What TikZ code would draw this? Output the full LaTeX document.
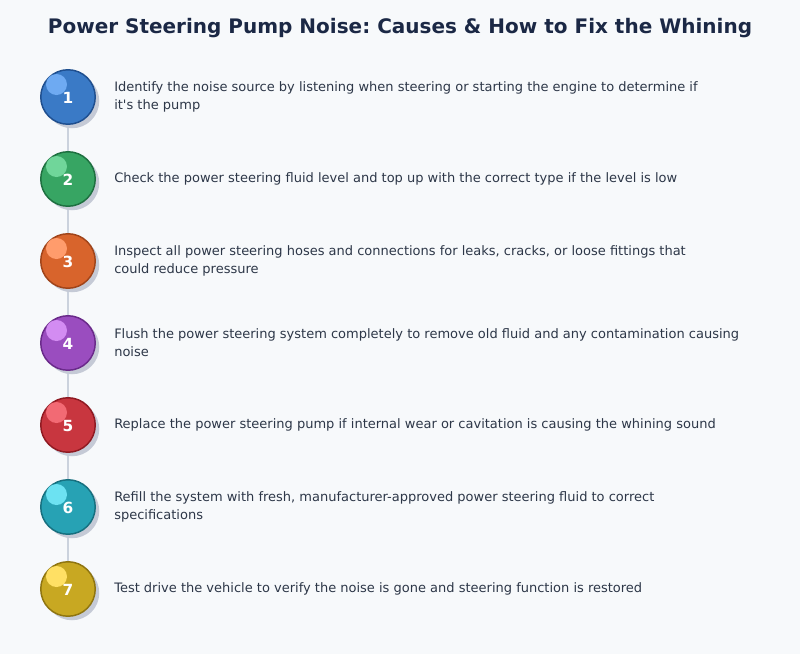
\documentclass[tikz,border=0pt]{standalone}
\usepackage{fontspec}
\setmainfont{DejaVu Sans}[Ligatures=TeXOff]
\frenchspacing
\definecolor{bg}{HTML}{F7F9FB}
\definecolor{titlec}{HTML}{1B2845}
\definecolor{textc}{HTML}{2D3748}
\definecolor{linec}{HTML}{CBD2DD}
\definecolor{shadc}{HTML}{C5CAD6}
\definecolor{fA}{HTML}{3A7AC6}\definecolor{bA}{HTML}{1F4F8F}\definecolor{hA}{HTML}{6EAAF2}
\definecolor{fB}{HTML}{37A563}\definecolor{bB}{HTML}{1E7040}\definecolor{hB}{HTML}{70D69A}
\definecolor{fC}{HTML}{D8642C}\definecolor{bC}{HTML}{A0441A}\definecolor{hC}{HTML}{FF9C6C}
\definecolor{fD}{HTML}{9A4DBF}\definecolor{bD}{HTML}{6A2A8A}\definecolor{hD}{HTML}{D38CF2}
\definecolor{fE}{HTML}{C8363F}\definecolor{bE}{HTML}{8F1A22}\definecolor{hE}{HTML}{F26A74}
\definecolor{fF}{HTML}{27A2B4}\definecolor{bF}{HTML}{17707F}\definecolor{hF}{HTML}{6CE2F2}
\definecolor{fG}{HTML}{C8A822}\definecolor{bG}{HTML}{8F7510}\definecolor{hG}{HTML}{FFE064}
\tikzset{
  stepcirc/.style={circle, minimum size=54.5*0.75pt, inner sep=0pt, line width=1.1pt},
  shadowcirc/.style={circle, fill=shadc, minimum size=54.5*0.75pt, inner sep=0pt},
  hilite/.style={circle, minimum size=21*0.75pt, inner sep=0pt},
  numtxt/.style={text=white, font=\bfseries\fontsize{11.5pt}{12pt}\selectfont, inner sep=0pt},
  desc/.style={anchor=west, text=textc, align=left, inner sep=0pt, font=\fontsize{9.75pt}{13.5pt}\selectfont},
  connector/.style={draw=linec, line width=2.2pt}
}
\begin{document}
\begin{tikzpicture}[x=0.75pt,y=-0.75pt]
\fill[bg] (0,0) rectangle (800,654);
\useasboundingbox (0,0) rectangle (800,654);
\node[text=titlec, font=\bfseries\fontsize{15pt}{18pt}\selectfont] (title) at (400,28) {Power Steering Pump Noise: Causes \& How to Fix the Whining};
% connectors
\foreach \i/\y in {1/97,2/179,3/261,4/343,5/425,6/507,7/589}{
  \coordinate (c\i) at (68,\y);
}
\foreach \a/\b in {c1/c2,c2/c3,c3/c4,c4/c5,c5/c6,c6/c7}{
  \draw[connector] (\a) -- (\b);
}
\foreach \i/\y/\f/\bd/\h in {1/97/fA/bA/hA,2/179/fB/bB/hB,3/261/fC/bC/hC,4/343/fD/bD/hD,5/425/fE/bE/hE,6/507/fF/bF/hF,7/589/fG/bG/hG}{
  \node[shadowcirc] (s\i) at (72,\y+4) {};
  \node[stepcirc, fill=\f, draw=\bd] (n\i) at (68,\y) {};
  \node[hilite, fill=\h] (h\i) at (56.5,\y-12.5) {};
  \node[numtxt] (t\i) at (68,\y+1) {\i};
}
\node[desc] (d1) at (114,96.5) {Identify the noise source by listening when steering or starting the engine to determine if\\it's the pump};
\node[desc] (d2) at (114,178.5) {Check the power steering fluid level and top up with the correct type if the level is low};
\node[desc] (d3) at (114,260.5) {Inspect all power steering hoses and connections for leaks, cracks, or loose fittings that\\could reduce pressure};
\node[desc] (d4) at (114,342.5) {Flush the power steering system completely to remove old fluid and any contamination causing\\noise};
\node[desc] (d5) at (114,424.5) {Replace the power steering pump if internal wear or cavitation is causing the whining sound};
\node[desc] (d6) at (114,506.5) {Refill the system with fresh, manufacturer-approved power steering fluid to correct\\specifications};
\node[desc] (d7) at (114,588.5) {Test drive the vehicle to verify the noise is gone and steering function is restored};
\end{tikzpicture}
\end{document}
